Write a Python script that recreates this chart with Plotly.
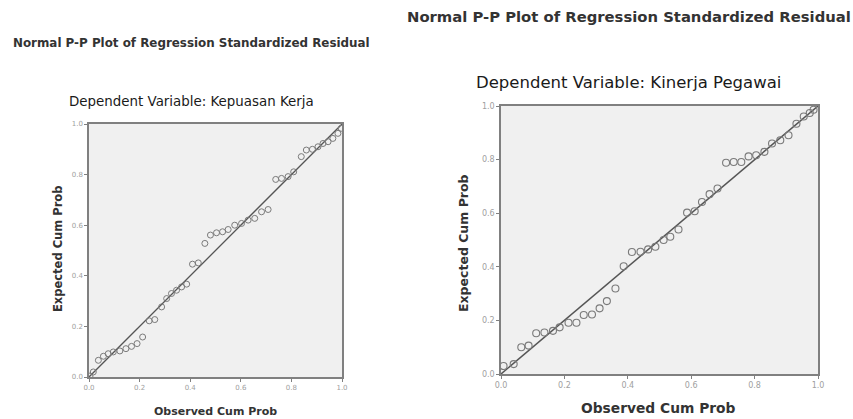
import plotly.graph_objects as go

# ---- data ----
left_observed = [0.004, 0.017, 0.037, 0.057, 0.076, 0.096, 0.122, 0.146, 0.168, 0.19,
                 0.212, 0.238, 0.26, 0.287, 0.307, 0.326, 0.346, 0.366, 0.386, 0.409,
                 0.432, 0.458, 0.48, 0.504, 0.528, 0.55, 0.576, 0.603, 0.629, 0.655,
                 0.682, 0.708, 0.738, 0.761, 0.787, 0.809, 0.839, 0.859, 0.883, 0.905,
                 0.925, 0.945, 0.964, 0.984, 0.997]
left_expected = [0.004, 0.02, 0.066, 0.082, 0.092, 0.099, 0.103, 0.112, 0.121, 0.132,
                 0.158, 0.222, 0.227, 0.277, 0.31, 0.33, 0.343, 0.356, 0.367, 0.446,
                 0.451, 0.528, 0.561, 0.57, 0.574, 0.583, 0.6, 0.607, 0.62, 0.627,
                 0.653, 0.662, 0.781, 0.785, 0.792, 0.811, 0.871, 0.897, 0.90, 0.91,
                 0.923, 0.93, 0.943, 0.963, 0.983]

right_observed = [0.008, 0.04, 0.064, 0.087, 0.111, 0.137, 0.164, 0.185, 0.213, 0.238,
                  0.261, 0.287, 0.311, 0.334, 0.361, 0.387, 0.413, 0.44, 0.464, 0.487,
                  0.513, 0.534, 0.56, 0.587, 0.611, 0.634, 0.658, 0.683, 0.71, 0.734,
                  0.758, 0.781, 0.805, 0.831, 0.855, 0.881, 0.907, 0.932, 0.955, 0.974,
                  0.986]
right_expected = [0.03, 0.037, 0.10, 0.106, 0.152, 0.155, 0.161, 0.174, 0.191, 0.191,
                  0.22, 0.222, 0.245, 0.272, 0.319, 0.402, 0.455, 0.456, 0.465, 0.475,
                  0.50, 0.512, 0.539, 0.602, 0.607, 0.642, 0.671, 0.692, 0.788, 0.791,
                  0.791, 0.812, 0.816, 0.829, 0.86, 0.872, 0.891, 0.934, 0.961, 0.974,
                  0.986]

ref_line = [0.0, 1.0]
tick_vals = [0.0, 0.2, 0.4, 0.6, 0.8, 1.0]
tick_text = ["0.0", "0.2", "0.4", "0.6", "0.8", "1.0"]

main_title = "Normal P-P Plot of Regression Standardized Residual"
left_sub = "Dependent Variable: Kepuasan Kerja"
right_sub = "Dependent Variable: Kinerja Pegawai"
x_title = "Observed Cum Prob"
y_title = "Expected Cum Prob"

W, H = 853, 419
FONT = "DejaVu Sans, Verdana, sans-serif"
TFONT = "DejaVu Sans, sans-serif"
LINE = "#555555"
MARK = "#7a7a7a"

fig = go.Figure()

# left panel
fig.add_trace(go.Scatter(x=ref_line, y=ref_line, mode="lines",
                         line=dict(color=LINE, width=1.3), xaxis="x", yaxis="y",
                         showlegend=False, hoverinfo="skip"))
fig.add_trace(go.Scatter(x=left_observed, y=left_expected, mode="markers",
                         marker=dict(symbol="circle-open", size=6, color=MARK,
                                     line=dict(width=1, color=MARK)),
                         xaxis="x", yaxis="y", showlegend=False))
# right panel
fig.add_trace(go.Scatter(x=ref_line, y=ref_line, mode="lines",
                         line=dict(color=LINE, width=1.5), xaxis="x2", yaxis="y2",
                         showlegend=False, hoverinfo="skip"))
fig.add_trace(go.Scatter(x=right_observed, y=right_expected, mode="markers",
                         marker=dict(symbol="circle-open", size=7, color=MARK,
                                     line=dict(width=1.1, color=MARK)),
                         xaxis="x2", yaxis="y2", showlegend=False))

def px_x(p):
    return p / W

def px_y(p):
    return 1 - p / H

def axis(domain, anchor, fs):
    return dict(domain=domain, anchor=anchor, range=[0, 1], tickvals=tick_vals,
                ticktext=tick_text, showgrid=False, zeroline=False, automargin=False,
                showline=True, linecolor="#808080", linewidth=1.5, mirror=True,
                ticks="outside", ticklen=3, tickcolor="#808080",
                tickfont=dict(family=FONT, size=fs, color="#a0a0a0"))

fig.update_layout(
    width=W, height=H,
    margin=dict(l=0, r=0, t=0, b=0, pad=0, autoexpand=False),
    paper_bgcolor="white",
    plot_bgcolor="#f0f0f0",
    xaxis=axis([px_x(89), px_x(342)], "y", 7),
    yaxis=axis([px_y(377), px_y(124)], "x", 7),
    xaxis2=axis([px_x(501), px_x(818)], "y2", 8),
    yaxis2=axis([px_y(374), px_y(106)], "x2", 8),
)

ann = []
def text(x, y, s, size, bold=True, angle=0, color="#333333"):
    ann.append(dict(x=px_x(x), y=px_y(y), xref="paper", yref="paper",
                    text=("<b>%s</b>" % s) if bold else s, showarrow=False,
                    textangle=angle, xanchor="center", yanchor="middle",
                    font=dict(family=TFONT, size=size, color=color)))

text(191, 43, main_title, 11.9)
text(629, 17, main_title, 14.8)
text(191, 102, left_sub, 13.4, bold=False, color="#1a1a1a")
text(628, 82, right_sub, 16.5, bold=False, color="#1a1a1a")
text(215, 411, x_title, 11)
text(658, 408, x_title, 13.8)
text(58, 249, y_title, 11.5, angle=-90)
text(463, 243, y_title, 12.5, angle=-90)

fig.update_layout(annotations=ann)
fig.write_html("out.html", config={"displayModeBar": False},
               post_script="document.body.style.margin='0';document.body.style.overflow='hidden';")
